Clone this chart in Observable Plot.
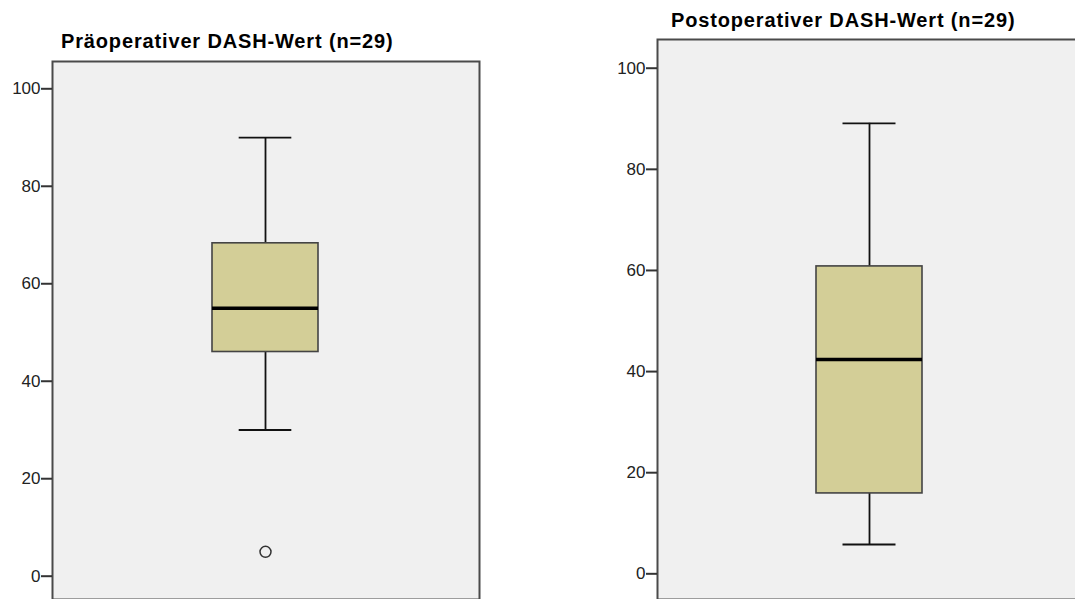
<!DOCTYPE html>
<html>
<head>
<meta charset="utf-8">
<script src="https://cdn.jsdelivr.net/npm/d3@7"></script>
<script src="https://cdn.jsdelivr.net/npm/@observablehq/plot@0.6"></script>
<style>
  html, body { margin: 0; padding: 0; background: #fff; }
  #wrap { position: relative; width: 1075px; height: 599px; overflow: hidden; background: #fff; }
  .panel { position: absolute; top: 0; }
  .title { position: absolute; font-family: "Liberation Sans", Arial, sans-serif; font-weight: bold;
           font-size: 20px; line-height: 1; letter-spacing: 0.85px; color: #000; white-space: nowrap; }
</style>
</head>
<body>
<div id="wrap"></div>
<script>
// ---- data ----
const groups = ["Präoperativ", "Postoperativ"];
const titles = ["Präoperativer DASH-Wert (n=29)", "Postoperativer DASH-Wert (n=29)"];
const whiskerLow = [30, 5.8];
const q1 = [46, 15.9];
const median = [55, 42.4];
const q3 = [68.3, 60.8];
const whiskerHigh = [90, 89.1];
const outliers = [[5], []];
const yTicks = [0, 20, 40, 60, 80, 100];

// ---- layout per panel ----
const layouts = [
  { left: 0,   width: 500, marginLeft: 52, marginRight: 21, marginTop: 61, yDomain: [-4.78, 105.6], titleLeft: 61,  titleTop: 31 },
  { left: 590, width: 500, marginLeft: 67, marginRight: 9,  marginTop: 39, yDomain: [-5.08, 105.68], titleLeft: 671, titleTop: 10 }
];

const wrap = document.getElementById("wrap");

groups.forEach((g, i) => {
  const L = layouts[i];
  const stats = [{ g, lo: whiskerLow[i], q1: q1[i], med: median[i], q3: q3[i], hi: whiskerHigh[i] }];
  const outs = outliers[i].map(v => ({ g, v }));
  const plotW = L.width - L.marginLeft - L.marginRight;
  const bw = plotW * 0.25;
  const capInset = bw / 4;

  const chart = Plot.plot({
    width: L.width,
    height: 610,
    marginLeft: L.marginLeft,
    marginRight: L.marginRight,
    marginTop: L.marginTop,
    marginBottom: 11,
    style: { fontFamily: "Liberation Sans, Arial, sans-serif", background: "transparent", color: "#222" },
    x: { domain: [g], padding: 0.6, axis: null },
    y: { domain: L.yDomain, axis: null },
    marks: [
      Plot.frame({ fill: "#f0f0f0", stroke: "#4a4a4a", strokeWidth: 2 }),
      Plot.axisY({ ticks: yTicks, tickSize: 11, tickPadding: 1, fontSize: 17, strokeWidth: 2, stroke: "#333", fill: "#222", tickFormat: d => String(d) }),
      Plot.ruleX(stats, { x: "g", y1: "q3", y2: "hi", stroke: "#111", strokeWidth: 1.8 }),
      Plot.ruleX(stats, { x: "g", y1: "lo", y2: "q1", stroke: "#111", strokeWidth: 1.8 }),
      Plot.tickY(stats, { x: "g", y: "hi", stroke: "#111", strokeWidth: 1.8, insetLeft: capInset, insetRight: capInset }),
      Plot.tickY(stats, { x: "g", y: "lo", stroke: "#111", strokeWidth: 1.8, insetLeft: capInset, insetRight: capInset }),
      Plot.barY(stats, { x: "g", y1: "q1", y2: "q3", fill: "#d3ce97", stroke: "#444", strokeWidth: 1.6 }),
      Plot.tickY(stats, { x: "g", y: "med", stroke: "#000", strokeWidth: 3.5 }),
      Plot.dot(outs, { x: "g", y: "v", r: 5.5, stroke: "#333", strokeWidth: 1.5, fill: "none" })
    ]
  });
  chart.classList.add("panel");
  chart.style.left = L.left + "px";
  wrap.appendChild(chart);

  const t = document.createElement("div");
  t.className = "title";
  t.textContent = titles[i];
  t.style.left = L.titleLeft + "px";
  t.style.top = L.titleTop + "px";
  wrap.appendChild(t);
});
</script>
</body>
</html>
